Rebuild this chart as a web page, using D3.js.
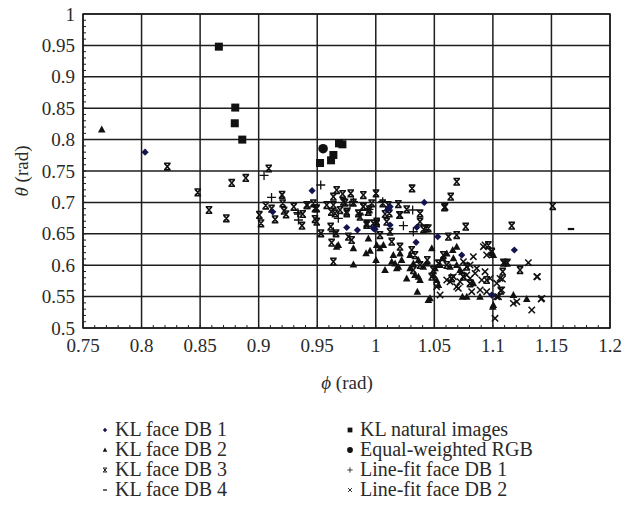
<!DOCTYPE html>
<html><head><meta charset="utf-8">
<script src="https://cdn.jsdelivr.net/npm/d3@7"></script>
<style>body{margin:0;background:#fff}svg{display:block}</style>
</head><body><svg id="c" width="638" height="506" font-family="'Liberation Serif', 'DejaVu Serif', 'Times New Roman', Times, serif"></svg>
<script>
// ---- data ----
const xTicks = [0.75,0.8,0.85,0.9,0.95,1,1.05,1.1,1.15,1.2];
const xTickLabels = ["0.75","0.8","0.85","0.9","0.95","1","1.05","1.1","1.15","1.2"];
const yTicks = [0.5,0.55,0.6,0.65,0.7,0.75,0.8,0.85,0.9,0.95,1];
const yTickLabels = ["0.5","0.55","0.6","0.65","0.7","0.75","0.8","0.85","0.9","0.95","1"];
const seriesNames = ["KL face DB 1","KL face DB 2","KL face DB 3","KL face DB 4","KL natural images","Equal-weighted RGB","Line-fit face DB 1","Line-fit face DB 2"];

const klFaceDB1 = [[0.803,0.780],[0.9456,0.7186],[0.912,0.685],[0.9752,0.660],[0.9843,0.656],[1.0414,0.700],[1.1183,0.6242],[1.099,0.5525],[1.0122,0.6932],[1.0099,0.6879],[1.035,0.6603],[1.0122,0.664],[0.9979,0.6587],[0.9994,0.6571],[1.0344,0.6364],[1.0529,0.6454],[1.0734,0.6162]];
const klFaceDB2 = [[0.766,0.816],[0.968,0.6321],[0.9809,0.6268],[0.9809,0.6013],[0.9917,0.6189],[0.9951,0.6231],[1.0002,0.6082],[1.0079,0.5923],[1.015,0.6162],[1.0179,0.595],[1.0207,0.6188],[1.0264,0.579],[1.0293,0.595],[1.0355,0.5578],[1.0449,0.5446],[1.0478,0.6268],[1.0492,0.5844],[1.052,0.5764],[1.0535,0.5684],[1.0572,0.6109],[1.0606,0.6188],[1.0634,0.5976],[1.0657,0.6242],[1.0663,0.6109],[1.0691,0.6295],[1.072,0.5923],[1.074,0.5499],[1.0777,0.5499],[1.0833,0.5711],[1.089,0.5499],[1.0999,0.5339],[1.1004,0.6162],[1.1175,0.5525],[1.1289,0.5461],[1.0008,0.6321],[1.0036,0.6268],[1.0136,0.6056],[1.0165,0.6029],[1.0193,0.5976],[1.0221,0.6082],[1.0321,0.6029],[1.0335,0.5844],[1.0364,0.5817],[1.0378,0.5764],[1.0406,0.5976],[1.0435,0.6029],[1.0506,0.595],[1.0549,0.6003],[1.0691,0.6003],[1.0463,0.5472],[1.0364,0.6082],[0.9666,0.6295],[1.0065,0.6321],[1.0293,0.6162],[0.9937,0.6427],[1.1004,0.5366],[1.099,0.6188]];
const klFaceDB3 = [[0.822,0.757],[0.848,0.716],[0.8576,0.6879],[0.8724,0.6746],[0.877,0.731],[0.889,0.739],[0.9086,0.754],[0.92,0.712],[0.906,0.695],[0.911,0.690],[0.9006,0.680],[0.902,0.6667],[0.914,0.673],[0.9205,0.6985],[0.9217,0.6868],[0.9234,0.681],[0.930,0.693],[0.937,0.663],[0.9376,0.6815],[0.9416,0.6958],[0.9467,0.6985],[0.9481,0.6735],[0.9496,0.6905],[0.9496,0.6693],[0.941,0.6958],[0.9481,0.6905],[0.9581,0.6958],[0.9638,0.7091],[0.9638,0.6958],[0.9652,0.6825],[0.9666,0.7197],[0.9695,0.6878],[0.9717,0.7133],[0.9737,0.6995],[0.9752,0.6852],[0.9786,0.7144],[0.9809,0.6995],[0.9851,0.6825],[0.9865,0.6772],[0.9894,0.7117],[0.9894,0.6931],[0.9922,0.6666],[0.9945,0.6889],[0.9965,0.6985],[1.0002,0.7144],[1.0008,0.6666],[1.0059,0.6985],[1.0107,0.6958],[1.0116,0.6825],[1.0193,0.6974],[1.0207,0.6799],[1.0264,0.6889],[1.031,0.7223],[1.0378,0.6825],[1.0378,0.6693],[1.0429,0.6587],[1.0449,0.6587],[1.0586,0.6921],[1.064,0.7091],[1.0691,0.7329],[1.0768,0.6613],[1.1511,0.6942],[1.1161,0.6629],[1.0122,0.6533],[1.0136,0.6374],[1.0207,0.6295],[1.0307,0.6242],[1.0335,0.6162],[1.044,0.6082],[0.9638,0.6056],[0.9794,0.6401],[1.0036,0.648],[1.062,0.6454],[1.0691,0.648],[1.0577,0.6162],[1.0961,0.632],[1.099,0.6215],[1.109,0.604],[1.1124,0.604],[1.1232,0.5923],[1.1084,0.5897],[1.1067,0.5594],[1.0947,0.5764],[1.0776,0.5976],[1.0805,0.571],[1.0649,0.579],[1.0748,0.5817],[1.0535,0.6029],[1.0606,0.6003],[1.0492,0.5923],[1.0478,0.5817],[1.0378,0.6003],[1.0321,0.5923],[0.9532,0.6507],[0.9623,0.6358],[0.9661,0.6507],[0.9766,0.6454],[0.9615,0.6613],[0.9922,0.664],[0.962,0.685],[0.9723,0.701],[0.9752,0.6826],[0.9893,0.693],[0.9936,0.685],[1.0079,0.6815],[1.0202,0.6799],[1.0093,0.6693],[1.0008,0.6693],[0.9979,0.6666],[1.0407,0.6571],[1.0592,0.6932]];
const klFaceDB4 = [[1.1667,0.6576]];
const klNaturalImages = [[0.866,0.948],[0.880,0.851],[0.8796,0.826],[0.886,0.800],[0.9524,0.7627],[0.9618,0.767],[0.9638,0.7755],[0.9686,0.794],[0.9715,0.7925]];
const equalWeightedRGB = [[0.955,0.7855]];
const lineFitFaceDB1 = [[0.9046,0.743],[0.911,0.708],[0.953,0.7277],[0.934,0.6815],[0.934,0.672],[0.9809,0.701],[0.968,0.6746],[0.9865,0.680],[1.0059,0.7011],[1.0315,0.6879],[1.0236,0.6629],[0.9638,0.6533],[0.978,0.6958],[0.9942,0.6889],[1.0321,0.6533],[0.9334,0.6836]];
const lineFitFaceDB2 = [[1.052,0.5658],[1.0549,0.5525],[1.0606,0.5764],[1.0649,0.5790],[1.0691,0.5658],[1.072,0.5737],[1.0748,0.5817],[1.0777,0.5976],[1.0805,0.5711],[1.0819,0.5578],[1.0833,0.6136],[1.0905,0.5764],[1.0919,0.6295],[1.0933,0.5897],[1.0976,0.579],[1.0990,0.6215],[1.1018,0.5154],[1.1033,0.5711],[1.1047,0.5499],[1.1061,0.579],[1.1075,0.5605],[1.1104,0.604],[1.1175,0.5392],[1.1204,0.5419],[1.1303,0.604],[1.1332,0.5286],[1.138,0.5817],[1.1417,0.5472],[1.0634,0.5737],[1.0663,0.5817],[1.0705,0.5631],[1.0734,0.5897],[1.0777,0.5844],[1.0805,0.579],[1.0848,0.587],[1.0862,0.595],[1.0805,0.6003],[1.0748,0.6056],[1.0891,0.5605],[1.0933,0.6321],[1.0947,0.6162],[1.0947,0.5578],[1.1081,0.578],[1.1033,0.5499],[1.1412,0.546],[1.1375,0.5817]];

// ---- chart ----
const svg = d3.select("#c");
const M = {l:83, r:610, t:14, b:328};
const x = d3.scaleLinear().domain([0.75,1.2]).range([M.l, M.r]);
const y = d3.scaleLinear().domain([0.5,1]).range([M.b, M.t]);
const ink = "#1e1e1e";
const txt = "#2a2a2a";

// grid
svg.append("g").selectAll("line").data(xTicks).join("line")
  .attr("x1",d=>x(d)).attr("x2",d=>x(d)).attr("y1",M.t).attr("y2",M.b)
  .attr("stroke",ink).attr("stroke-width",1.5);
svg.append("g").selectAll("line").data(yTicks).join("line")
  .attr("y1",d=>y(d)).attr("y2",d=>y(d)).attr("x1",M.l).attr("x2",M.r)
  .attr("stroke",ink).attr("stroke-width",1.5);
svg.append("rect").attr("x",M.l).attr("y",M.t).attr("width",M.r-M.l).attr("height",M.b-M.t)
  .attr("fill","none").attr("stroke",ink).attr("stroke-width",1.5);

// minor ticks
const xMinor = d3.range(76,120).map(v=>v/100);
const yMinor = d3.range(51,100).map(v=>v/100);
svg.append("g").selectAll("line").data(xMinor).join("line")
  .attr("x1",d=>x(d)).attr("x2",d=>x(d)).attr("y1",M.b).attr("y2",M.b-3).attr("stroke",ink).attr("stroke-width",1);
svg.append("g").selectAll("line").data(yMinor).join("line")
  .attr("y1",d=>y(d)).attr("y2",d=>y(d)).attr("x1",M.l).attr("x2",M.l+3).attr("stroke",ink).attr("stroke-width",1);

// tick labels
svg.append("g").selectAll("text").data(xTicks).join("text")
  .attr("x",d=>x(d)).attr("y",352).attr("text-anchor","middle").attr("font-size",19).attr("fill",txt)
  .text((d,i)=>xTickLabels[i]);
svg.append("g").selectAll("text").data(yTicks).join("text")
  .attr("x",75).attr("y",d=>y(d)+6.5).attr("text-anchor","end").attr("font-size",19).attr("fill",txt)
  .text((d,i)=>yTickLabels[i]);

// axis titles
const xt = svg.append("text").attr("x",347).attr("y",389).attr("text-anchor","middle").attr("font-size",19).attr("fill",txt);
xt.append("tspan").attr("font-style","italic").text("ϕ");
xt.append("tspan").text(" (rad)");
const yt = svg.append("text").attr("transform","translate(28,171) rotate(-90)").attr("text-anchor","middle").attr("font-size",19).attr("fill",txt);
yt.append("tspan").attr("font-style","italic").text("θ");
yt.append("tspan").text(" (rad)");

// marker shapes
const shapes = {
  diamond: g=>g.append("path").attr("d","M0,-3.6L3.6,0L0,3.6L-3.6,0Z").attr("fill","#13134e"),
  triangle: g=>g.append("path").attr("d","M0,-4L3.8,3L-3.8,3Z").attr("fill","#111"),
  bowtie: g=>g.append("path").attr("d","M-3.3,-3.3H3.3M-3.3,3.3H3.3M-2.6,-3L2.6,3M2.6,-3L-2.6,3").attr("stroke","#111").attr("stroke-width",1.6).attr("fill","none"),
  dash: g=>g.append("path").attr("d","M-3.2,0H3.2").attr("stroke","#111").attr("stroke-width",2.2),
  square: g=>g.append("rect").attr("x",-4).attr("y",-4).attr("width",8).attr("height",8).attr("fill","#111"),
  circle: g=>g.append("circle").attr("r",4.8).attr("fill","#111"),
  plus: g=>g.append("path").attr("d","M-4.5,0H4.5M0,-4.5V4.5").attr("stroke","#111").attr("stroke-width",1.3),
  cross: g=>g.append("path").attr("d","M-3.2,-3.2L3.2,3.2M3.2,-3.2L-3.2,3.2").attr("stroke","#111").attr("stroke-width",1.5)
};
const seriesData = [klFaceDB1,klFaceDB2,klFaceDB3,klFaceDB4,klNaturalImages,equalWeightedRGB,lineFitFaceDB1,lineFitFaceDB2];
const seriesShape = ["diamond","triangle","bowtie","dash","square","circle","plus","cross"];
const plotOrder = [2,7,1,6,0,3,4,5];
plotOrder.forEach(si=>{
  const g = svg.append("g");
  g.selectAll("g").data(seriesData[si]).join("g")
    .attr("transform",d=>`translate(${x(d[0])},${y(d[1])})`)
    .each(function(){ shapes[seriesShape[si]](d3.select(this)); });
});

// legend
const legendMarkerScale = 0.6;
seriesNames.forEach((name,i)=>{
  const col = i<4 ? 0 : 1, row = i%4;
  const mx = col===0 ? 105 : 350, ty = 436 + row*20;
  const g = svg.append("g").attr("transform",`translate(${mx},${ty-6}) scale(${legendMarkerScale})`);
  shapes[seriesShape[i]](g);
  svg.append("text").attr("x",mx+10).attr("y",ty).attr("font-size",20).attr("fill",txt).text(name);
});
</script></body></html>
